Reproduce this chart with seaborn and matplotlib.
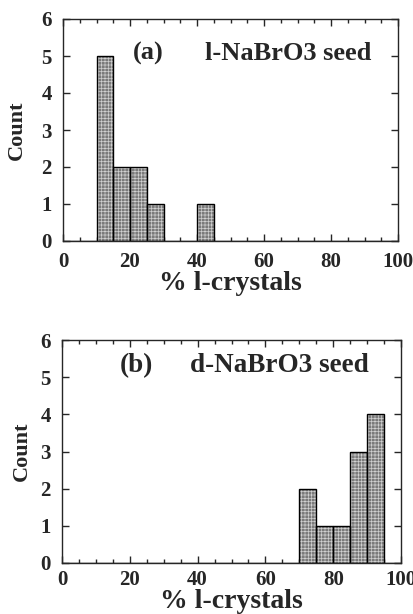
import matplotlib
matplotlib.use("Agg")
import matplotlib.pyplot as plt
from matplotlib.ticker import MultipleLocator
import seaborn as sns

# bin centres (% l-crystals) and counts
l_seed_centres = [12.5, 17.5, 22.5, 27.5, 42.5]
l_seed_counts = [5, 2, 2, 1, 1]
d_seed_centres = [72.5, 77.5, 82.5, 87.5, 92.5]
d_seed_counts = [2, 1, 1, 3, 4]

panel_labels = ["(a)", "(b)"]
panel_titles = ["l-NaBrO3 seed", "d-NaBrO3 seed"]

sns.set_style("ticks")
plt.rcParams["font.family"] = ["Liberation Serif", "DejaVu Serif"]
plt.rcParams["font.weight"] = "bold"
plt.rcParams["hatch.linewidth"] = 0.5

W, H = 413, 614
fig = plt.figure(figsize=(W / 100, H / 100), dpi=100)
# axes positions in figure fractions (from pixel boxes)
ax_a = fig.add_axes([63 / W, 1 - 241 / H, 335 / W, 222 / H])
ax_b = fig.add_axes([62 / W, 1 - 563 / H, 339 / W, 223 / H])

# (axes, centres, counts, label x, title x, text baseline y, tick pad, xlabel y, ylabel x)
panels = [
    (ax_a, l_seed_centres, l_seed_counts, 21, 42.5, 4.9, 8, -0.135, -0.107, 19),
    (ax_b, d_seed_centres, d_seed_counts, 17, 37.8, 5.14, 5, -0.115, -0.088, 19.5),
]

for i, (ax, centres, counts, lx, tx, ty, pad, xly, ylx, tsize) in enumerate(panels):
    # gray textured fill
    sns.histplot(x=centres, weights=counts, binwidth=5, binrange=(0, 100),
                 color="#7a7a7a", edgecolor="#d0d0d0", linewidth=0,
                 alpha=1, hatch="+++++", ax=ax)
    # black outlines on top
    sns.histplot(x=centres, weights=counts, binwidth=5, binrange=(0, 100),
                 fill=False, color="black", edgecolor="black",
                 linewidth=1.0, ax=ax)

    ax.set_xlim(0, 100)
    ax.set_ylim(0, 6)
    ax.xaxis.set_major_locator(MultipleLocator(20))
    ax.xaxis.set_minor_locator(MultipleLocator(5))
    ax.yaxis.set_major_locator(MultipleLocator(1))
    ax.tick_params(which="both", direction="in", top=True, right=True,
                   labelsize=15)
    ax.tick_params(axis="x", pad=pad)
    ax.tick_params(axis="y", pad=8)
    ax.tick_params(which="major", length=5, width=1)
    ax.tick_params(which="minor", length=3, width=1)
    for lbl in ax.get_xticklabels() + ax.get_yticklabels():
        lbl.set_fontweight("bold")
    for sp in ax.spines.values():
        sp.set_visible(True)
        sp.set_linewidth(1.0)

    ax.set_xlabel("% l-crystals", fontsize=20, fontweight="bold")
    ax.set_ylabel("Count", fontsize=16, fontweight="bold")
    ax.xaxis.set_label_coords(0.5, xly)
    ax.yaxis.set_label_coords(ylx, 0.5)

    ax.text(lx, ty, panel_labels[i], fontsize=tsize, fontweight="bold",
            va="baseline", ha="left")
    ax.text(tx, ty, panel_titles[i], fontsize=tsize, fontweight="bold",
            va="baseline", ha="left")

fig.savefig("out.png", dpi=100)
